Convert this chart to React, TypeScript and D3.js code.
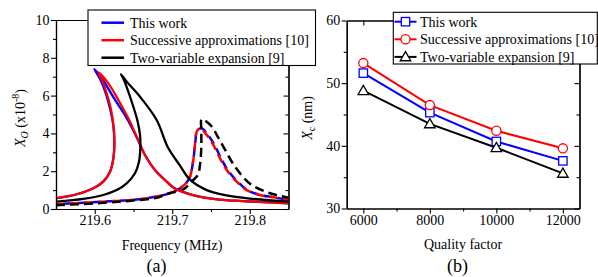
import * as d3 from "d3";
import { useEffect, useRef } from "react";

// panel (a): frequency response, [frequency MHz, amplitude x1e-8]
const freqTicks = [219.6, 219.7, 219.8];
const freqMinor = [219.65, 219.75];
const ampTicks = [0, 2, 4, 6, 8, 10];
const ampMinor = [1, 3, 5, 7, 9];

const blueSolid: [number, number][] = [
  [219.551, 0.57], [219.5767, 0.78], [219.5982, 1.1], [219.611, 1.45], [219.6197, 1.97],
  [219.624, 2.68], [219.6253, 3.56], [219.624, 4.44], [219.6195, 5.35], [219.614, 6.15],
  [219.6075, 6.82], [219.5994, 7.41], [219.611, 6.8], [219.625, 5.85], [219.64, 4.9],
  [219.6541, 3.8], [219.6648, 2.86], [219.6777, 2.06], [219.6928, 1.45], [219.7029, 1.1],
  [219.7268, 0.74], [219.761, 0.5], [219.7913, 0.42], [219.85, 0.3],
];
const redSolid: [number, number][] = [
  [219.551, 0.57], [219.5767, 0.78], [219.5982, 1.1], [219.611, 1.45], [219.6197, 1.97],
  [219.624, 2.68], [219.6253, 3.56], [219.624, 4.44], [219.6206, 5.33], [219.6154, 6.12],
  [219.6102, 6.74], [219.6046, 7.23], [219.6175, 6.65], [219.6304, 5.77], [219.6433, 4.8],
  [219.6541, 3.83], [219.6648, 2.86], [219.6777, 2.06], [219.6928, 1.45], [219.7029, 1.1],
  [219.7268, 0.74], [219.761, 0.5], [219.7913, 0.42], [219.85, 0.3],
];
const blackSolid: [number, number][] = [
  [219.551, 0.39], [219.5852, 0.53], [219.611, 0.74], [219.6283, 1.0], [219.6412, 1.36],
  [219.6519, 1.89], [219.6571, 2.5], [219.6588, 3.21], [219.6584, 3.92], [219.6554, 4.62],
  [219.6498, 5.41], [219.6433, 6.21], [219.6377, 6.83], [219.6339, 7.13], [219.6412, 6.74],
  [219.6584, 5.94], [219.6799, 4.71], [219.6945, 3.25], [219.71, 2.3], [219.7229, 1.55],
  [219.7445, 1.0], [219.77, 0.72], [219.8003, 0.55], [219.85, 0.39],
];
const blueDashed: [number, number][] = [
  [219.55, 0.25], [219.6025, 0.37], [219.654, 0.5], [219.68, 0.66], [219.7, 0.88],
  [219.712, 1.15], [219.7194, 1.45], [219.7229, 1.71], [219.7272, 2.59], [219.7296, 3.48],
  [219.732, 4.09], [219.7375, 4.27], [219.746, 3.92], [219.7545, 3.39], [219.763, 2.68],
  [219.7715, 2.06], [219.7842, 1.45], [219.797, 1.0], [219.8135, 0.74], [219.8304, 0.62],
  [219.85, 0.48],
];
const redDashed: [number, number][] = [
  [219.55, 0.25], [219.6025, 0.37], [219.654, 0.5], [219.68, 0.66], [219.7, 0.88],
  [219.712, 1.15], [219.7194, 1.45], [219.7229, 1.71], [219.7272, 2.59], [219.7294, 3.48],
  [219.7315, 4.09], [219.7358, 4.27], [219.7445, 3.92], [219.753, 3.39], [219.7616, 2.68],
  [219.7703, 2.06], [219.7832, 1.45], [219.7961, 1.0], [219.8132, 0.74], [219.8304, 0.62],
  [219.85, 0.48],
];
const blackDashed: [number, number][] = [
  [219.55, 0.2], [219.6, 0.3], [219.65, 0.45], [219.68, 0.6], [219.697, 0.85],
  [219.713, 1.0], [219.725, 1.45], [219.733, 1.8], [219.736, 2.4], [219.7375, 3.3],
  [219.7375, 4.2], [219.738, 4.75], [219.7513, 4.35], [219.7577, 3.9], [219.768, 3.15],
  [219.7816, 2.2], [219.8016, 1.3], [219.8274, 0.82], [219.85, 0.6],
];

// panel (b): critical amplitude vs quality factor
const qualityFactors = [6000, 8000, 10000, 12000];
const qMinor = [7000, 9000, 11000];
const xcTicks = [30, 40, 50, 60];
const xcMinor = [35, 45, 55];
const thisWork = [51.6, 45.3, 40.7, 37.6];
const successive = [53.2, 46.5, 42.4, 39.6];
const twoVariable = [48.8, 43.5, 39.7, 35.6];

const legendLabels = ["This work", "Successive approximations [10]", "Two-variable expansion [9]"];
const colors = ["#0000ff", "#ff0000", "#000000"];

const FONT = "'Liberation Serif', 'Times New Roman', serif";

// axis box: outward ticks bottom/left, mirrored inward ticks top/right
const drawFrame = (g: any, x: any, y: any, xt: number[], xm: number[], yt: number[], ym: number[], fmt: (d: number) => string) => {
  const [x0, x1] = x.range();
  const [y0, y1] = y.range();
  const style = (sel: any) => {
    sel.attr("font-family", FONT).attr("font-size", 14);
    sel.select(".domain").attr("stroke", "#000").attr("stroke-width", 1.2);
    sel.selectAll(".tick line").attr("stroke", "#000").attr("stroke-width", 1.1);
    sel.selectAll("text").attr("fill", "#000");
  };
  const none = () => "";
  g.append("g").attr("transform", `translate(0,${y0})`)
    .call(d3.axisBottom(x).tickValues(xt).tickSize(5).tickSizeOuter(0).tickPadding(1.5).tickFormat(fmt as any)).call(style);
  g.append("g").attr("transform", `translate(0,${y0})`)
    .call(d3.axisBottom(x).tickValues(xm).tickSize(3).tickSizeOuter(0).tickFormat(none)).call(style);
  g.append("g").attr("transform", `translate(${x0},0)`)
    .call(d3.axisLeft(y).tickValues(yt).tickSize(5).tickSizeOuter(0).tickPadding(1.5)).call(style);
  g.append("g").attr("transform", `translate(${x0},0)`)
    .call(d3.axisLeft(y).tickValues(ym).tickSize(3).tickSizeOuter(0).tickFormat(none)).call(style);
  g.append("g").attr("transform", `translate(0,${y1})`)
    .call(d3.axisTop(x).tickValues(xt).tickSize(-5).tickSizeOuter(0).tickFormat(none)).call(style);
  g.append("g").attr("transform", `translate(0,${y1})`)
    .call(d3.axisTop(x).tickValues(xm).tickSize(-3).tickSizeOuter(0).tickFormat(none)).call(style);
  g.append("g").attr("transform", `translate(${x1},0)`)
    .call(d3.axisRight(y).tickValues(yt).tickSize(-5).tickSizeOuter(0).tickFormat(none)).call(style);
  g.append("g").attr("transform", `translate(${x1},0)`)
    .call(d3.axisRight(y).tickValues(ym).tickSize(-3).tickSizeOuter(0).tickFormat(none)).call(style);
};

const App = () => {
  const svgRef = useRef<SVGSVGElement>(null);

  useEffect(() => {
    const svg = d3.select(svgRef.current);
    svg.selectAll("*").remove();

    // ---------- panel (a)
    const xa = d3.scaleLinear().domain([219.55, 219.85]).range([56, 288.5]);
    const ya = d3.scaleLinear().domain([0, 10]).range([209, 20]);
    const ga = svg.append("g");

    svg.append("clipPath").attr("id", "clipA").append("rect")
      .attr("x", 56).attr("y", 20).attr("width", 232.5).attr("height", 189);

    const line = d3.line<[number, number]>()
      .x((d) => xa(d[0]))
      .y((d) => ya(d[1]))
      .curve(d3.curveCatmullRom.alpha(0.5));

    const curves = ga.append("g").attr("clip-path", "url(#clipA)");
    const dashed = [
      { data: blueDashed, color: colors[0], offset: 6 },
      { data: redDashed, color: colors[1], offset: 0 },
      { data: blackDashed, color: colors[2], offset: 0 },
    ];
    dashed.forEach((c) => {
      curves.append("path").attr("d", line(c.data)).attr("fill", "none")
        .attr("stroke", c.color).attr("stroke-width", 2.5)
        .attr("stroke-dasharray", "9,5").attr("stroke-dashoffset", c.offset);
    });
    [blueSolid, redSolid, blackSolid].forEach((d, i) => {
      curves.append("path").attr("d", line(d)).attr("fill", "none")
        .attr("stroke", colors[i]).attr("stroke-width", 2.3);
    });

    drawFrame(ga, xa, ya, freqTicks, freqMinor, ampTicks, ampMinor, (d) => d3.format(".1f")(d));

    // legend (a)
    const la = svg.append("g");
    la.append("rect").attr("x", 88).attr("y", 10).attr("width", 227.5).attr("height", 55.5)
      .attr("fill", "#fff").attr("stroke", "#000").attr("stroke-width", 1.1);
    legendLabels.forEach((lab, i) => {
      const cy = 22.7 + i * 17.5;
      la.append("line").attr("x1", 101.5).attr("x2", 124).attr("y1", cy).attr("y2", cy)
        .attr("stroke", colors[i]).attr("stroke-width", 2.5);
      la.append("text").attr("x", 130).attr("y", cy + 5).attr("font-family", FONT)
        .attr("font-size", 14).text(lab);
    });

    // axis titles (a)
    svg.append("text").attr("x", 172).attr("y", 250).attr("text-anchor", "middle")
      .attr("font-family", FONT).attr("font-size", 14).text("Frequency (MHz)");
    svg.append("text").attr("x", 156.5).attr("y", 272).attr("text-anchor", "middle")
      .attr("font-family", FONT).attr("font-size", 18).text("(a)");
    const ta = svg.append("text").attr("transform", "translate(25,118) rotate(-90)")
      .attr("text-anchor", "middle").attr("font-family", FONT).attr("font-size", 14);
    ta.append("tspan").attr("font-style", "italic").text("X");
    ta.append("tspan").attr("font-style", "italic").attr("font-size", 10).attr("dy", 3).text("O");
    ta.append("tspan").attr("dy", -3).text(" (x10");
    ta.append("tspan").attr("font-size", 10).attr("dy", -6).text("-8");
    ta.append("tspan").attr("dy", 6).text(")");

    // ---------- panel (b)
    const xb = d3.scaleLinear().domain([5500, 12500]).range([346.7, 579.5]);
    const yb = d3.scaleLinear().domain([30, 60]).range([208.5, 20.5]);
    const gb = svg.append("g");
    drawFrame(gb, xb, yb, qualityFactors, qMinor, xcTicks, xcMinor, (d) => String(d));

    const series = [thisWork, successive, twoVariable];
    const lineB = d3.line<number>().x((_, i) => xb(qualityFactors[i])).y((d) => yb(d));

    const marker = (g: any, kind: number, cx: number, cy: number, color: string) => {
      if (kind === 0) {
        g.append("rect").attr("x", cx - 4.2).attr("y", cy - 4.2).attr("width", 8.4).attr("height", 8.4)
          .attr("fill", "#fff").attr("stroke", color).attr("stroke-width", 1.3);
      } else if (kind === 1) {
        g.append("circle").attr("cx", cx).attr("cy", cy).attr("r", 4.6)
          .attr("fill", "#fff").attr("stroke", color).attr("stroke-width", 1.3);
      } else {
        const tri = d3.symbol().type(d3.symbolTriangle).size(48);
        g.append("path").attr("d", tri()).attr("transform", `translate(${cx},${cy + 0.8})`)
          .attr("fill", "#fff").attr("stroke", color).attr("stroke-width", 1.3);
      }
    };

    series.forEach((s, k) => {
      gb.append("path").attr("d", lineB(s)).attr("fill", "none")
        .attr("stroke", colors[k]).attr("stroke-width", 2);
    });
    series.forEach((s, k) => {
      s.forEach((v, i) => marker(gb, k, xb(qualityFactors[i]), yb(v), colors[k]));
    });

    // legend (b)
    const lb = svg.append("g");
    lb.append("rect").attr("x", 393.3).attr("y", 12.3).attr("width", 204).attr("height", 51.7)
      .attr("fill", "#fff").attr("stroke", "#000").attr("stroke-width", 1.1);
    legendLabels.forEach((lab, i) => {
      const cy = 21.7 + i * 17.6;
      lb.append("line").attr("x1", 394.5).attr("x2", 416.5).attr("y1", cy).attr("y2", cy)
        .attr("stroke", colors[i]).attr("stroke-width", 2);
      marker(lb, i, 405.5, cy, colors[i]);
      lb.append("text").attr("x", 420).attr("y", cy + 5).attr("font-family", FONT)
        .attr("font-size", 14).text(lab);
    });

    svg.append("text").attr("x", 463).attr("y", 249).attr("text-anchor", "middle")
      .attr("font-family", FONT).attr("font-size", 14).text("Quality factor");
    svg.append("text").attr("x", 457.5).attr("y", 272).attr("text-anchor", "middle")
      .attr("font-family", FONT).attr("font-size", 18).text("(b)");
    const tb = svg.append("text").attr("transform", "translate(312,118) rotate(-90)")
      .attr("text-anchor", "middle").attr("font-family", FONT).attr("font-size", 14);
    tb.append("tspan").attr("font-style", "italic").text("X");
    tb.append("tspan").attr("font-size", 10).attr("dy", 3).text("c");
    tb.append("tspan").attr("dy", -3).text(" (nm)");
  }, []);

  return (
    <svg ref={svgRef} width={598} height={277}
      style={{ position: "absolute", left: 0, top: 0, background: "#fff" }} />
  );
};

export default App;
